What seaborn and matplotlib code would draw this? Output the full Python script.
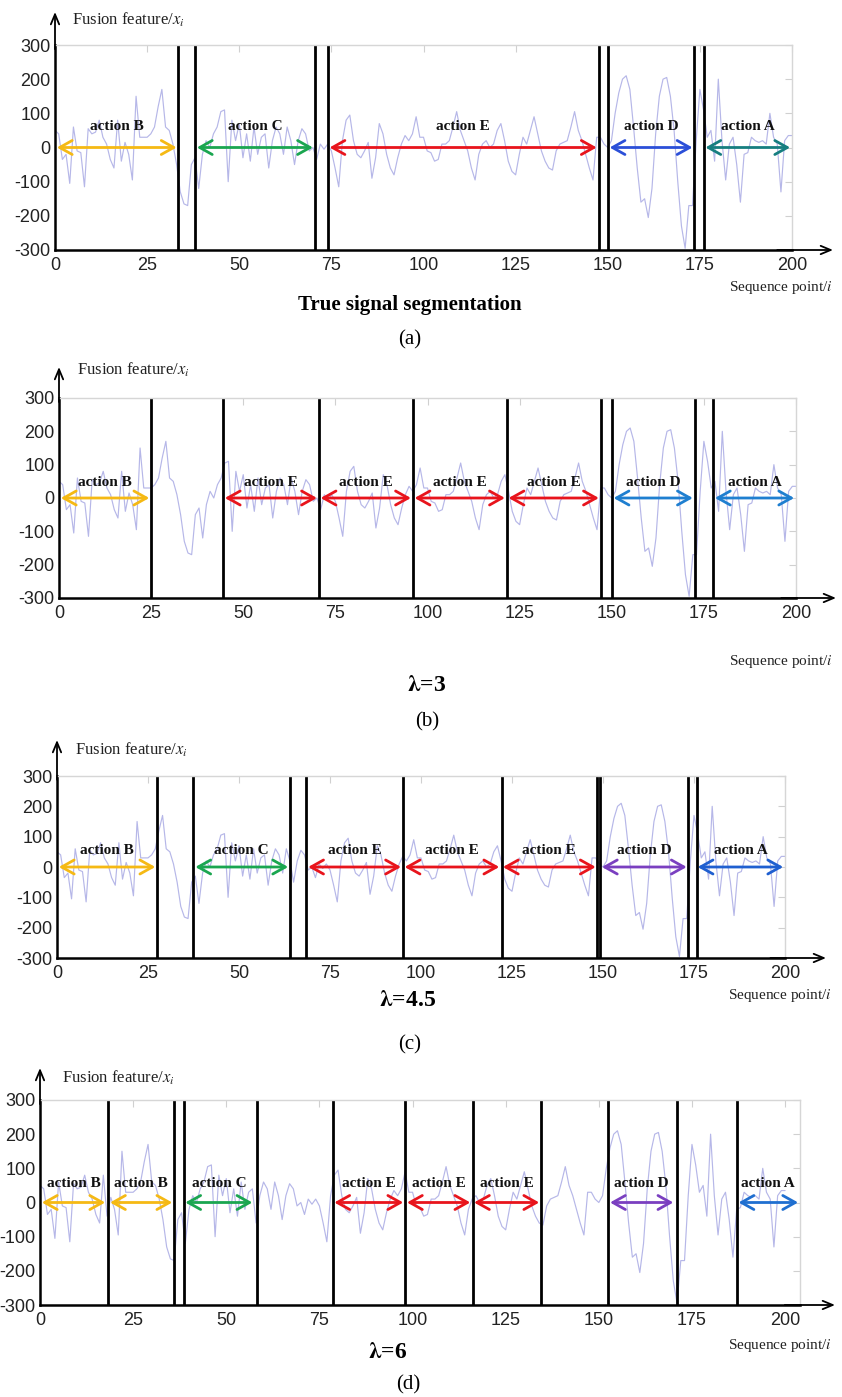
import numpy as np
import pandas as pd
import seaborn as sns
import matplotlib.pyplot as plt

# Fused feature sequence x_i sampled at points i = 0..200
seq = list(range(201))
signal = [
    50, 40, -35, -20, -105, 60, -10, -15, -115, 55,
    40, 45, 80, 30, 10, -35, -60, 80, -40, 15,
    -20, -95, 150, 30, 30, 30, 40, 60, 120, 170,
    60, 50, 10, -50, -130, -165, -170, -50, -30, -120,
    -20, 20, 0, 40, 60, 105, 110, -100, 80, 20,
    70, -30, 40, -40, 60, -20, 30, 40, -60, 20,
    60, 40, -20, 60, 20, -50, 20, 55, 40, -10,
    0, -35, 10, -5, 10, -10, -60, -115, 20, 80,
    95, 20, -20, -30, -10, 15, -90, -30, 70, 40,
    -20, -60, -80, -30, 10, 35, 20, 40, 90, 30,
    30, -10, -15, -40, -35, 10, 10, 20, 60, 105,
    50, 20, -10, -60, -95, -20, 10, 20, 0, 10,
    50, 70, 20, -40, -70, -80, -20, 30, 10, 50,
    90, 40, -10, -40, -60, -66, -10, 10, 15, 20,
    60, 105, 50, 20, -20, -60, -95, 30, 30, 10,
    0, 20, 100, 160, 200, 210, 170, 60, -60, -160,
    -150, -205, -120, 40, 150, 200, 205, 150, 50, -100,
    -230, -295, -170, -170, 20, 170, 110, 30, 50, -40,
    200, 20, -95, 10, 30, -50, -160, -20, -15, 30,
    20, 15, 20, 10, 100, 30, 10, -130, 20, 35,
    35,
]

x_ticks = [0, 25, 50, 75, 100, 125, 150, 175, 200]
y_ticks = [-300, -200, -100, 0, 100, 200, 300]

# Segment boundaries for each result
bounds_a = [33.5, 38, 70.5, 74, 147.5, 150, 173.5, 176]
bounds_b = [25, 44.5, 70.5, 96, 121.5, 147, 150, 172.5, 177.5]
bounds_c = [27.5, 37.4, 64, 68.4, 95, 122.3, 148.4, 149.2, 173.4, 175.8]
bounds_d = [18.3, 36, 38.7, 58.3, 78.7, 98, 116.2, 134.5, 152.5, 171, 187]

# Labelled segments: (name, start, end, colour)
segs_a = [("action B", 0.5, 33, "#f5b914"), ("action C", 38.5, 70, "#1aa650"),
          ("action E", 74.5, 147, "#e8141c"), ("action D", 150.5, 173, "#2b4fd8"),
          ("action A", 176.5, 199.5, "#167e80")]
segs_b = [("action B", 0.5, 24.5, "#f5b914"), ("action E", 45, 70, "#e8141c"),
          ("action E", 71, 95.5, "#e8141c"), ("action E", 96.5, 121, "#e8141c"),
          ("action E", 122, 146.5, "#e8141c"), ("action D", 150.5, 172, "#1f7fd0"),
          ("action A", 178, 199.5, "#1f7fd0")]
segs_c = [("action B", 0.5, 27, "#f5b914"), ("action C", 38, 63.5, "#1aa650"),
          ("action E", 69, 94.5, "#e8141c"), ("action E", 95.5, 121.5, "#e8141c"),
          ("action E", 122.5, 148, "#e8141c"), ("action D", 149.7, 173, "#7a3fc0"),
          ("action A", 176, 199.5, "#1f5fd0")]
segs_d = [("action B", 0.5, 17.5, "#f5b914"), ("action B", 18.8, 35.5, "#f5b914"),
          ("action C", 39, 57, "#1aa650"), ("action E", 79, 97.5, "#e8141c"),
          ("action E", 98.5, 115.5, "#e8141c"), ("action E", 116.5, 134, "#e8141c"),
          ("action D", 153, 170, "#7a3fc0"), ("action A", 187.5, 203.5, "#1f6fd0")]

sns.set_theme(style="white")
plt.rcParams["font.family"] = ["Liberation Serif", "DejaVu Serif"]
plt.rcParams["mathtext.fontset"] = "stix"
plt.rcParams["axes.unicode_minus"] = False

W, H = 842, 1397
fig = plt.figure(figsize=(W / 100, H / 100), dpi=100)
df = pd.DataFrame({"i": seq, "x": signal})


def fx(px):
    return px / W


def fy(py):
    return 1 - py / H


def panel(box, xmax, bounds, segs, arrow_top, arrow_right, label_y, captions):
    left, right, top, bottom = box
    ax = fig.add_axes([fx(left), fy(bottom), (right - left) / W, (bottom - top) / H])
    sns.lineplot(data=df, x="i", y="x", ax=ax, color="#b6b7e8", lw=0.85)
    ax.set_xlim(0, xmax)
    ax.set_ylim(-300, 300)
    ax.set_xticks(x_ticks)
    ax.set_yticks(y_ticks)
    ax.set_xlabel("")
    ax.set_ylabel("")
    for lab in ax.get_xticklabels() + ax.get_yticklabels():
        lab.set_fontfamily("Liberation Sans")
        lab.set_fontsize(13)
        lab.set_color("#222222")
    ax.tick_params(direction="in", top=True, right=True, length=5, width=0.8,
                   color="#d0d0d0", pad=5)
    ax.tick_params(axis="y", pad=3)
    for s in ("top", "right"):
        ax.spines[s].set_color("#d6d6d6")
        ax.spines[s].set_linewidth(1.0)
    for s in ("left", "bottom"):
        ax.spines[s].set_color("black")
        ax.spines[s].set_linewidth(1.8)

    for b in bounds:
        ax.axvline(b, color="black", lw=2.0)

    for name, a, b, c in segs:
        ax.annotate("", xy=(b, 0), xytext=(a, 0),
                    arrowprops=dict(arrowstyle="<->,head_length=0.5,head_width=0.28",
                                    color=c, lw=2.0, mutation_scale=18,
                                    shrinkA=0, shrinkB=0))
        ax.text((a + b) / 2, label_y, name, ha="center", va="center",
                fontsize=11, fontweight="bold", color="#111111")

    # Axis arrows
    h = bottom - top
    w = right - left
    ax.annotate("", xy=(0, 1 + (top - arrow_top) / h), xytext=(0, 0.98),
                xycoords="axes fraction", textcoords="axes fraction",
                arrowprops=dict(arrowstyle="->,head_length=0.6,head_width=0.25",
                                color="black", lw=1.3, shrinkA=0, shrinkB=0),
                annotation_clip=False)
    ax.annotate("", xy=(1 + (arrow_right - right) / w, 0), xytext=(0.98, 0),
                xycoords="axes fraction", textcoords="axes fraction",
                arrowprops=dict(arrowstyle="->,head_length=0.6,head_width=0.25",
                                color="black", lw=1.3, shrinkA=0, shrinkB=0),
                annotation_clip=False)

    (yl_x, yl_y), (sp_x, sp_y), (cap_txt, cap_x, cap_y, cap_size), (tag, tag_x, tag_y) = captions
    fig.text(fx(yl_x), fy(yl_y), r"Fusion feature/$x_i$", ha="left", va="center",
             fontsize=12, color="#222222")
    fig.text(fx(sp_x), fy(sp_y), r"Sequence point/$i$", ha="right", va="center",
             fontsize=11, color="#222222")
    fig.text(fx(cap_x), fy(cap_y), cap_txt, ha="center", va="center",
             fontsize=cap_size, fontweight="bold", color="black")
    fig.text(fx(tag_x), fy(tag_y), tag, ha="center", va="center",
             fontsize=15, color="black")
    return ax


panel((55, 792, 45, 250), 200, bounds_a, segs_a, 12, 833, 60,
      [(72, 20), (833, 288), ("True signal segmentation", 410, 305, 15), ("(a)", 410, 340)])
panel((59, 796, 398, 598), 200, bounds_b, segs_b, 367, 836, 48,
      [(77, 370), (833, 662), (r"$\mathbf{\lambda}$=3", 427, 685, 17), ("(b)", 427, 722)])
panel((57, 785, 776, 958), 200, bounds_c, segs_c, 740, 826, 55,
      [(75, 750), (832, 995), (r"$\mathbf{\lambda}$=4.5", 408, 1000, 17), ("(c)", 410, 1045)])
panel((40, 800, 1100, 1305), 204, bounds_d, segs_d, 1068, 835, 55,
      [(62, 1078), (832, 1345), (r"$\mathbf{\lambda}$=6", 388, 1352, 17), ("(d)", 408, 1385)])

fig.savefig("out.png", dpi=100, facecolor="white")
